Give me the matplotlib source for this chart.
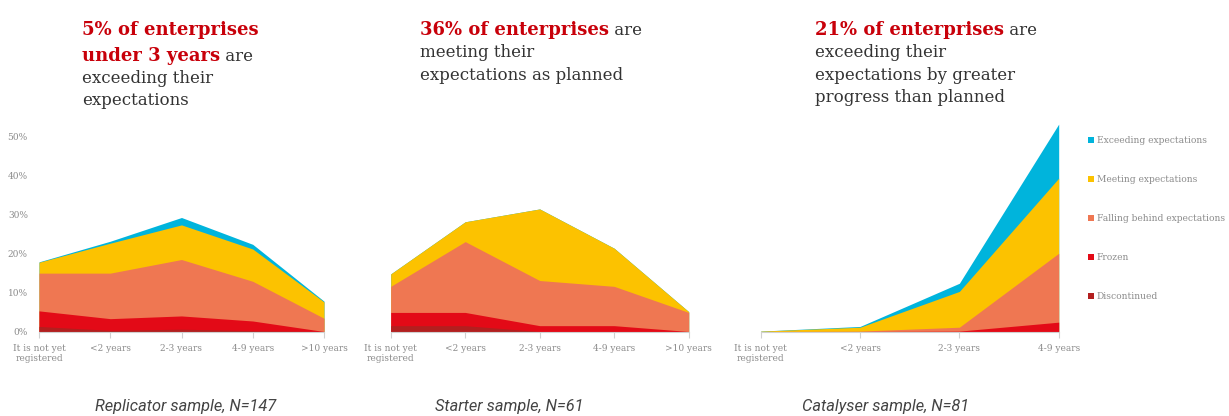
import numpy as np
import matplotlib
matplotlib.use('Agg')
import matplotlib.pyplot as plt
from matplotlib.patches import Patch

# Category labels
cats_5 = ['It is not yet\nregistered', '<2 years', '2-3 years', '4-9 years', '>10 years']
cats_4 = cats_5[:4]

series_names = ['Discontinued', 'Frozen', 'Falling behind expectations',
                'Meeting expectations', 'Exceeding expectations']
series_colors = ['#B21F1F', '#E30A17', '#EF7752', '#FCC200', '#00B4DC']

# Replicator sample (% of enterprises)
rep_disc = [1.3, 0.3, 0.6, 0.2, 0.0]
rep_frozen = [4.0, 3.0, 3.4, 2.5, 0.0]
rep_falling = [9.7, 11.7, 14.5, 10.2, 3.4]
rep_meeting = [2.8, 7.7, 8.9, 8.3, 4.2]
rep_exceeding = [0.1, 0.5, 1.9, 1.2, 0.2]

# Starter sample
sta_disc = [1.5, 1.5, 0.0, 0.0, 0.0]
sta_frozen = [3.4, 3.4, 1.5, 1.5, 0.0]
sta_falling = [6.7, 18.2, 11.6, 10.1, 4.9]
sta_meeting = [3.2, 5.1, 18.4, 9.8, 0.2]
sta_exceeding = [0.0, 0.0, 0.0, 0.0, 0.0]

# Catalyser sample
cat_disc = [0.0, 0.0, 0.0, 0.0]
cat_frozen = [0.0, 0.0, 0.1, 2.4]
cat_falling = [0.0, 0.1, 1.0, 17.7]
cat_meeting = [0.1, 1.0, 9.2, 19.3]
cat_exceeding = [0.0, 0.2, 2.1, 13.9]

y_ticks = [0, 10, 20, 30, 40, 50]

samples = ['Replicator sample, N=147', 'Starter sample, N=61', 'Catalyser sample, N=81']

RED = '#C8000A'
DARK = '#333333'
GRID = '#8C8C8C'

W, H = 1229, 416
fig = plt.figure(figsize=(W / 100, H / 100), dpi=100)


def px_axes(left, width):
    bottom = 331.5
    top = 117.5
    return fig.add_axes([left / W, (H - bottom) / H, width / W, (bottom - top) / H])


def area(ax, cats, data, show_y=False):
    x = np.arange(len(cats))
    # cumulative layers, each filled from zero, top layer first so no seams show
    tops = np.cumsum(np.array(data, dtype=float), axis=0)
    for top, c in zip(tops[::-1], series_colors[::-1]):
        ax.fill_between(x, 0, top, color=c, linewidth=0)
    ax.set_xlim(0, len(cats) - 1)
    ax.set_ylim(0, 55)
    for s in ['top', 'right', 'left']:
        ax.spines[s].set_visible(False)
    ax.spines['bottom'].set_color('#D0D0D0')
    ax.spines['bottom'].set_linewidth(0.8)
    ax.set_xticks(x)
    ax.set_xticklabels(cats, fontsize=6.5, color=GRID, family='DejaVu Serif',
                       linespacing=1.15)
    ax.tick_params(axis='x', length=4, color='#D0D0D0', pad=5)
    if show_y:
        ax.set_yticks(y_ticks)
        ax.set_yticklabels(['%d%%' % v for v in y_ticks], fontsize=6.5,
                           color=GRID, family='DejaVu Serif')
        ax.tick_params(axis='y', length=0, pad=8)
    else:
        ax.set_yticks([])


ax1 = px_axes(39, 285)
area(ax1, cats_5, [rep_disc, rep_frozen, rep_falling, rep_meeting, rep_exceeding], True)
ax2 = px_axes(390.7, 298)
area(ax2, cats_5, [sta_disc, sta_frozen, sta_falling, sta_meeting, sta_exceeding])
ax3 = px_axes(760.7, 298)
area(ax3, cats_4, [cat_disc, cat_frozen, cat_falling, cat_meeting, cat_exceeding])

handles = [Patch(facecolor=c, edgecolor='none') for c in series_colors][::-1]
ax3.legend(handles, series_names[::-1], loc='upper left', bbox_to_anchor=(1.072, 0.95),
           frameon=False, labelcolor=GRID, handlelength=0.62,
           handleheight=0.62, handletextpad=0.3, labelspacing=3.27,
           prop={'family': 'DejaVu Serif', 'size': 6.6})

# Headline text blocks: list of lines, each a list of (text, bold) pieces
headlines = [
    (82, [35, 61, 83, 105], [[('5% of enterprises', True)],
                             [('under 3 years', True), (' are', False)],
                             [('exceeding their', False)],
                             [('expectations', False)]]),
    (420, [35, 57, 80], [[('36% of enterprises', True), (' are', False)],
                         [('meeting their', False)],
                         [('expectations as planned', False)]]),
    (815, [35, 57, 80, 102], [[('21% of enterprises', True), (' are', False)],
                              [('exceeding their', False)],
                              [('expectations by greater', False)],
                              [('progress than planned', False)]]),
]

renderer = fig.canvas.get_renderer()
for x0, baselines, lines in headlines:
    for yb, pieces in zip(baselines, lines):
        x = x0
        for txt, bold in pieces:
            t = fig.text(x / W, (H - yb) / H, txt, ha='left', va='baseline',
                         family='DejaVu Serif',
                         fontsize=13 if bold else 12,
                         fontweight='bold' if bold else 'normal',
                         color=RED if bold else DARK)
            bb = t.get_window_extent(renderer)
            x = bb.x1

for cx, label in zip([185.5, 509.5, 886], samples):
    fig.text(cx / W, (H - 406) / H, label, ha='center', va='center',
             family='Roboto', style='italic', fontweight='normal',
             fontsize=11.8, color='#444444')

fig.savefig('out.png', dpi=100)
